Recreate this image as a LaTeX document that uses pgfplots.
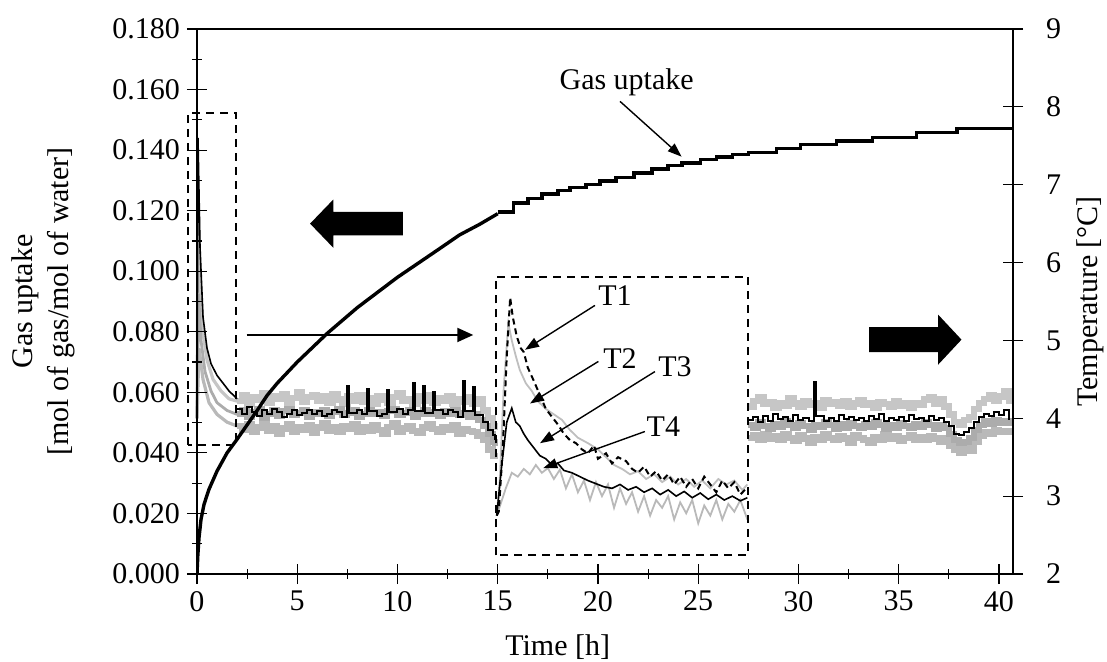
\documentclass[border=0pt]{standalone}
\usepackage{fontspec}
\setmainfont{Liberation Serif}
\usepackage{pgfplots}
\pgfplotsset{compat=1.18}
\usepackage{pgfplotstable}
\usetikzlibrary{arrows.meta}

% gas uptake [mol gas / mol water] vs time [h], rising part
\pgfplotstableread{
x y
0 0
0.04 0.006
0.1 0.012
0.2 0.018
0.35 0.023
0.6 0.028
1.0 0.034
1.5 0.040
2.0 0.0445
3.0 0.054
3.5 0.0590
4.0 0.0630
5.0 0.0700
6.5 0.0795
8.0 0.088
10.0 0.098
12.0 0.107
13.1 0.112
14.1 0.1155
15.0 0.119
}\gasdata
% gas uptake, stepped part
\pgfplotstableread{
x y
15.0 0.1195
15.8 0.1225
16.5 0.1240
17.2 0.1255
18.0 0.1267
18.6 0.1277
19.4 0.1287
20.1 0.1298
20.9 0.1310
21.8 0.1325
22.7 0.1338
23.5 0.1349
24.2 0.1358
25.1 0.1368
25.9 0.1377
26.7 0.1385
27.5 0.1392
28.9 0.1405
30.1 0.1418
31.9 0.1430
33.7 0.1442
35.9 0.1458
37.9 0.1472
40.7 0.1472
}\gassteps

% temperatures, start spike
\pgfplotstableread{
x t
0 4.0
0.05 7.6
0.15 6.2
0.3 5.3
0.5 4.9
0.7 4.7
1.0 4.55
1.3 4.45
1.6 4.35
2.0 4.25
}\spikeA
\pgfplotstableread{
x t
0 4.0
0.06 6.8
0.15 5.8
0.3 5.1
0.5 4.75
0.8 4.5
1.2 4.35
1.6 4.25
2.0 4.22
}\spikeB
\pgfplotstableread{
x t
0 4.0
0.08 5.6
0.2 5.0
0.4 4.6
0.7 4.35
1.0 4.2
1.5 4.1
2.0 4.05
}\spikeC
\pgfplotstableread{
x t
0 4.0
0.1 4.9
0.3 4.5
0.6 4.2
1.0 4.05
1.5 3.95
2.0 3.9
}\spikeD

% temperature band (gray traces), 2 h to 15 h
\pgfplotstableread{
x t2 t3 t4
2.00 4.22 4.05 3.90
2.25 4.30 4.10 3.85
2.50 4.18 4.02 3.92
2.75 4.27 4.08 3.82
3.00 4.24 4.12 3.88
3.25 4.32 4.00 3.95
3.50 4.20 4.06 3.84
3.75 4.28 4.10 3.90
4.00 4.25 4.03 3.80
4.25 4.31 4.09 3.87
4.50 4.19 4.12 3.93
4.75 4.26 4.04 3.83
5.00 4.33 4.07 3.89
5.25 4.21 4.11 3.85
5.50 4.27 4.02 3.91
5.75 4.30 4.08 3.81
6.00 4.22 4.05 3.88
6.25 4.28 4.10 3.94
6.50 4.20 4.03 3.84
6.75 4.31 4.08 3.89
7.00 4.24 4.12 3.82
7.25 4.18 4.04 3.90
7.50 4.28 4.07 3.86
7.75 4.23 4.10 3.92
8.00 4.30 4.02 3.83
8.25 4.21 4.06 3.88
8.50 4.26 4.11 3.84
8.75 4.19 4.05 3.91
9.00 4.29 4.08 3.85
9.25 4.24 4.03 3.80
9.50 4.20 4.09 3.89
9.75 4.27 4.12 3.94
10.00 4.32 4.04 3.83
10.25 4.22 4.07 3.87
10.50 4.25 4.10 3.90
10.75 4.18 4.02 3.84
11.00 4.28 4.06 3.81
11.25 4.23 4.11 3.88
11.50 4.30 4.05 3.92
11.75 4.20 4.08 3.86
12.00 4.26 4.03 3.83
12.25 4.22 4.09 3.89
12.50 4.29 4.06 3.85
12.75 4.19 4.10 3.91
13.00 4.25 4.04 3.80
13.25 4.21 4.07 3.86
13.50 4.27 4.02 3.84
13.75 4.18 4.05 3.82
14.00 4.24 3.98 3.78
14.25 4.10 3.90 3.72
14.50 4.00 3.80 3.60
14.75 3.90 3.70 3.52
14.85 3.85 3.65 3.55
}\bandA

% black trace, 2 h to 15 h
\pgfplotstableread{
x t
2.00 4.12
2.25 4.05
2.50 4.15
2.75 4.08
3.00 4.03
3.25 4.10
3.50 4.05
3.75 4.12
4.00 4.08
4.25 4.02
4.50 4.06
4.75 4.10
5.00 4.04
5.25 4.07
5.50 4.11
5.75 4.05
6.00 4.09
6.25 4.03
6.50 4.06
6.75 4.10
7.00 4.08
7.25 4.02
7.50 4.42
7.60 4.07
8.00 4.11
8.25 4.05
8.50 4.38
8.60 4.09
9.00 4.03
9.25 4.06
9.50 4.36
9.60 4.08
10.00 4.12
10.25 4.05
10.50 4.10
10.75 4.45
10.85 4.09
11.25 4.42
11.35 4.07
11.75 4.34
11.85 4.11
12.25 4.06
12.50 4.10
12.75 4.08
13.00 4.02
13.25 4.48
13.35 4.09
13.75 4.40
13.85 4.04
14.25 3.95
14.50 3.85
14.75 3.78
14.85 3.72
}\blackA

% temperature band (gray traces), 27.5 h to 40.5 h
\pgfplotstableread{
x t2 t3 t4
27.50 4.15 3.92 3.75
27.75 4.22 3.88 3.78
28.00 4.27 3.95 3.72
28.25 4.18 3.90 3.80
28.50 4.21 3.86 3.74
28.75 4.14 3.93 3.77
29.00 4.20 3.89 3.73
29.25 4.16 3.96 3.79
29.50 4.26 3.91 3.75
29.75 4.19 3.87 3.71
30.00 4.15 3.94 3.78
30.25 4.22 3.90 3.74
30.50 4.17 3.85 3.68
30.75 4.20 3.92 3.76
31.00 4.14 3.89 3.73
31.25 4.23 3.95 3.79
31.50 4.18 3.91 3.75
31.75 4.21 3.86 3.72
32.00 4.16 3.93 3.77
32.25 4.22 3.88 3.74
32.50 4.15 3.94 3.69
32.75 4.19 3.90 3.78
33.00 4.23 3.87 3.75
33.25 4.17 3.93 3.72
33.50 4.20 3.89 3.68
33.75 4.14 3.95 3.76
34.00 4.21 3.91 3.73
34.25 4.18 3.86 3.79
34.50 4.15 3.92 3.74
34.75 4.22 3.88 3.77
35.00 4.16 3.94 3.71
35.25 4.19 3.90 3.75
35.50 4.13 3.87 3.78
35.75 4.20 3.93 3.73
36.00 4.17 3.89 3.76
36.25 4.24 3.95 3.72
36.50 4.27 3.91 3.77
36.75 4.18 3.86 3.74
37.00 4.25 3.92 3.70
37.25 4.15 3.88 3.75
37.50 4.05 3.80 3.65
37.75 3.95 3.72 3.60
38.00 3.92 3.68 3.56
38.25 3.98 3.70 3.62
38.50 4.02 3.75 3.58
38.75 4.12 3.85 3.70
39.00 4.20 3.92 3.78
39.25 4.25 3.96 3.82
39.50 4.30 3.93 3.80
39.75 4.22 3.98 3.85
40.00 4.28 3.94 3.82
40.25 4.35 3.97 3.84
40.50 4.18 3.90 3.78
}\bandB

% black trace, 27.5 h to 40.5 h
\pgfplotstableread{
x t
27.50 3.98
27.75 4.02
28.00 3.95
28.25 4.03
28.50 3.97
28.75 4.05
29.00 3.99
29.25 4.02
29.50 3.96
29.75 4.04
30.00 3.98
30.25 4.01
30.50 3.97
30.75 4.47
30.85 4.03
31.25 3.96
31.50 4.00
31.75 3.97
32.00 4.04
32.25 3.99
32.50 4.02
32.75 3.98
33.00 4.01
33.25 3.96
33.50 4.03
33.75 3.99
34.00 4.05
34.25 3.97
34.50 4.00
34.75 3.98
35.00 4.02
35.25 3.96
35.50 4.04
35.75 3.99
36.00 4.01
36.25 3.97
36.50 4.03
36.75 3.98
37.00 4.00
37.25 3.95
37.50 3.90
37.75 3.80
38.00 3.78
38.25 3.82
38.50 3.88
38.75 3.95
39.00 4.02
39.25 4.06
39.50 4.03
39.75 4.08
40.00 4.04
40.25 4.10
40.50 3.98
}\blackB

% inset (magnified start spike), in axis coordinates
\pgfplotstableread{
x t
14.95 2.75
15.05 2.80
15.25 3.60
15.45 4.80
15.62 5.55
15.75 5.30
15.95 5.05
16.15 4.90
16.30 4.85
16.50 4.65
16.80 4.48
17.10 4.30
17.40 4.12
17.70 4.02
18.00 3.92
18.30 3.80
18.60 3.72
18.90 3.68
19.20 3.60
19.50 3.55
19.80 3.65
20.00 3.48
20.40 3.55
20.70 3.42
21.00 3.50
21.40 3.45
21.70 3.35
22.00 3.30
22.30 3.38
22.60 3.25
22.90 3.32
23.20 3.20
23.50 3.28
23.80 3.15
24.10 3.25
24.40 3.12
24.70 3.22
25.00 3.10
25.30 3.25
25.60 3.15
25.90 3.05
26.20 3.20
26.50 3.10
26.80 3.18
27.10 3.02
27.40 3.10
}\insetA
\pgfplotstableread{
x t
14.95 2.75
15.10 3.20
15.30 4.40
15.53 5.22
15.70 5.00
15.90 4.80
16.10 4.62
16.40 4.45
16.70 4.35
17.00 4.22
17.40 4.12
17.80 4.05
18.20 3.98
18.60 3.85
19.00 3.75
19.50 3.68
20.00 3.60
20.40 3.50
20.80 3.40
21.20 3.35
21.60 3.28
22.00 3.32
22.40 3.22
22.80 3.28
23.20 3.18
23.60 3.25
24.00 3.15
24.40 3.22
24.80 3.12
25.20 3.20
25.60 3.10
26.00 3.22
26.40 3.15
26.80 3.20
27.20 3.08
27.45 3.15
}\insetB
\pgfplotstableread{
x t
14.95 2.75
15.20 3.40
15.45 3.95
15.70 4.13
15.90 3.95
16.10 3.90
16.30 3.80
16.50 3.72
16.80 3.62
17.10 3.52
17.40 3.48
17.70 3.40
18.00 3.42
18.30 3.33
18.70 3.30
19.10 3.25
19.50 3.20
19.90 3.16
20.30 3.12
20.70 3.10
21.10 3.15
21.50 3.08
21.90 3.12
22.30 3.05
22.70 3.10
23.10 3.02
23.50 3.08
23.90 3.00
24.30 3.06
24.70 2.98
25.10 3.04
25.50 2.96
25.90 3.02
26.30 2.95
26.70 3.00
27.10 2.94
27.45 2.98
}\insetC
\pgfplotstableread{
x t
14.95 2.75
15.40 3.10
15.70 3.30
16.00 3.25
16.30 3.35
16.60 3.28
16.90 3.40
17.20 3.30
17.50 3.36
17.80 3.22
18.10 3.34
18.40 3.10
18.70 3.28
19.00 3.05
19.30 3.20
19.60 2.95
19.90 3.18
20.20 3.00
20.50 3.15
20.80 2.85
21.10 3.10
21.40 2.90
21.70 3.05
22.00 2.80
22.30 3.00
22.60 2.75
22.90 2.95
23.20 2.85
23.50 3.00
23.80 2.70
24.10 2.92
24.40 2.78
24.70 2.95
25.00 2.65
25.30 2.88
25.60 2.75
25.90 2.95
26.20 2.70
26.50 2.90
26.80 2.80
27.10 2.95
27.45 2.70
}\insetD

\pgfplotsset{
  common/.style={
    scale only axis, width=408pt, height=272.5pt,
    xmin=0, xmax=40.7,
    /pgf/number format/assume math mode=true,
    tick label style={font=\fontsize{15}{18}\selectfont},
    label style={font=\fontsize{15}{18}\selectfont},
    tick align=center, major tick length=10pt, minor tick length=5pt,
    every tick/.style={black, line width=0.6pt},
    axis line style={line width=1pt},
  },
}

\begin{document}
\begin{tikzpicture}
\useasboundingbox (-98.5pt,-44pt) rectangle (455pt,287pt);

% ---------------- temperature axis (right) ----------------
\begin{axis}[common,
  hide x axis,
  axis y line*=right,
  ymin=2, ymax=9, ytick={2,3,4,5,6,7,8,9},
  yticklabel style={xshift=8pt},
  clip=false,
  ylabel={Temperature [°C]},
  ylabel style={at={(axis description cs:1.095,0.5)}, anchor=center},
]
% band, gray traces
\addplot[const plot, gray!45, line width=3.2pt] table[x=x,y=t2] {\bandA};
\addplot[const plot, gray!55, line width=3.2pt] table[x=x,y=t4] {\bandA};
\addplot[const plot, gray!65, line width=3pt] table[x=x,y=t3] {\bandA};
\addplot[const plot, black, line width=1pt] table[x=x,y=t] {\blackA};
\addplot[const plot, gray!45, line width=3.2pt] table[x=x,y=t2] {\bandB};
\addplot[const plot, gray!55, line width=3.2pt] table[x=x,y=t4] {\bandB};
\addplot[const plot, gray!65, line width=3pt] table[x=x,y=t3] {\bandB};
\addplot[const plot, black, line width=1pt] table[x=x,y=t] {\blackB};
% start spike
\addplot[gray!45, line width=1.6pt] table[x=x,y=t] {\spikeB};
\addplot[gray!55, line width=1.6pt] table[x=x,y=t] {\spikeD};
\addplot[gray!65, line width=1.4pt] table[x=x,y=t] {\spikeC};
\addplot[black, line width=0.8pt] table[x=x,y=t] {\spikeA};
% inset
\addplot[gray!55, line width=0.9pt] table[x=x,y=t] {\insetD};
\addplot[gray!50, line width=0.9pt] table[x=x,y=t] {\insetB};
\addplot[black, line width=0.8pt] table[x=x,y=t] {\insetC};
\addplot[black, line width=1pt, densely dashed] table[x=x,y=t] {\insetA};

% dashed boxes
\draw[line width=1pt, dash pattern=on 4pt off 3pt] (axis cs:-0.45,3.66) rectangle (axis cs:1.95,7.92);
\draw[line width=1pt, dash pattern=on 4pt off 3pt] (axis cs:14.91,2.24) rectangle (axis cs:27.5,5.82);
% thin arrow
\draw[line width=1pt, -{Triangle[length=8pt,width=7pt]}] (axis cs:2.48,5.07) -- (axis cs:13.78,5.07);
% big block arrows
\fill[black] (axis cs:5.64,6.50) -- (axis cs:6.8,6.81) -- (axis cs:6.8,6.65) -- (axis cs:10.27,6.65)
   -- (axis cs:10.27,6.35) -- (axis cs:6.8,6.35) -- (axis cs:6.8,6.19) -- cycle;
\fill[black] (axis cs:38.13,5.01) -- (axis cs:36.97,5.33) -- (axis cs:36.97,5.17) -- (axis cs:33.52,5.17)
   -- (axis cs:33.52,4.85) -- (axis cs:36.97,4.85) -- (axis cs:36.97,4.69) -- cycle;
% gas uptake annotation
\node[font=\fontsize{15}{18}\selectfont] at (axis cs:21.43,8.32) {Gas uptake};
\draw[line width=0.7pt, -{Triangle[length=7pt,width=5pt]}] (axis cs:21.1,8.07) -- (axis cs:24.17,7.36);
% inset labels
\node[font=\fontsize{15}{18}\selectfont] at (axis cs:20.85,5.58) {T1};
\draw[line width=0.7pt, -{Triangle[length=7pt,width=5pt]}] (axis cs:19.85,5.45) -- (axis cs:16.36,4.88);
\node[font=\fontsize{15}{18}\selectfont] at (axis cs:21.10,4.77) {T2};
\draw[line width=0.7pt, -{Triangle[length=7pt,width=5pt]}] (axis cs:20.02,4.73) -- (axis cs:16.61,4.19);
\node[font=\fontsize{15}{18}\selectfont] at (axis cs:23.84,4.66) {T3};
\draw[line width=0.7pt, -{Triangle[length=7pt,width=5pt]}] (axis cs:22.84,4.60) -- (axis cs:17.11,3.68);
\node[font=\fontsize{15}{18}\selectfont] at (axis cs:23.26,3.89) {T4};
\draw[line width=0.7pt, -{Triangle[length=7pt,width=5pt]}] (axis cs:22.34,3.83) -- (axis cs:17.27,3.36);
\end{axis}

% ---------------- gas uptake axis (left) ----------------
\begin{axis}[common,
  xtick pos=bottom, ytick pos=left,
  ymin=0, ymax=0.18,
  ytick={0,0.02,0.04,0.06,0.08,0.1,0.12,0.14,0.16,0.18},
  minor y tick num=1,
  xtick={0,5,10,15,20,25,30,35,40},
  minor x tick num=1,
  yticklabel style={/pgf/number format/.cd, fixed, fixed zerofill, precision=3},
  xlabel={Time [h]},
  xlabel style={at={(axis description cs:0.442,-0.135)}, anchor=center},
  ylabel={Gas uptake\\{}[mol of gas/mol of water]},
  ylabel style={at={(axis description cs:-0.188,0.5)}, anchor=center, align=center},
]
\addplot[black, line width=1.7pt] table[x=x,y=y] {\gasdata};
\addplot[black, line width=1.7pt, const plot] table[x=x,y=y] {\gassteps};
\end{axis}
\end{tikzpicture}
\end{document}
